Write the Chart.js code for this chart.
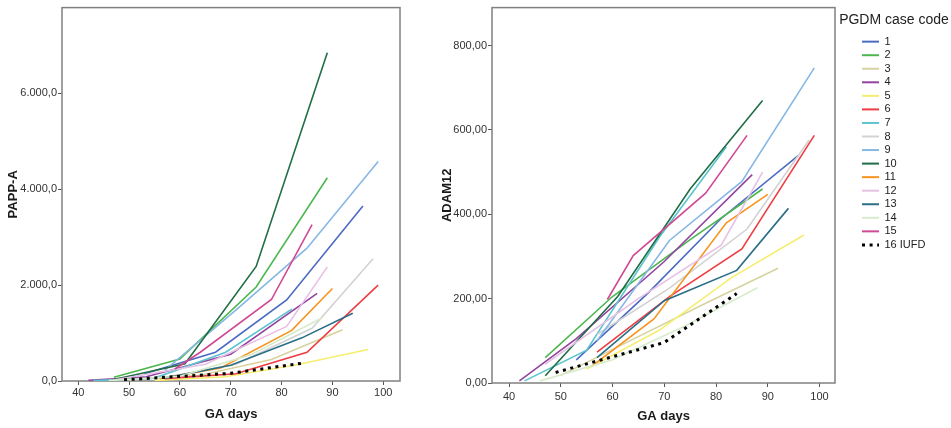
<!DOCTYPE html>
<html>
<head>
<meta charset="utf-8">
<script src="https://cdn.jsdelivr.net/npm/chart.js@4.4.1/dist/chart.umd.min.js"></script>
<style>
  html, body { margin: 0; padding: 0; background: #ffffff; }
  #wrap { position: relative; width: 951px; height: 428px; overflow: hidden; background: #fff; }
  #cA { position: absolute; left: 0; top: 0; }
  #cB { position: absolute; left: 420px; top: 0; }
</style>
</head>
<body>
<div id="wrap">
  <canvas id="cA" width="420" height="428"></canvas>
  <canvas id="cB" width="531" height="428"></canvas>
</div>
<script>
// ---------------- DATA ----------------
const caseLabels = ['1','2','3','4','5','6','7','8','9','10','11','12','13','14','15','16 IUFD'];

// gestational age (days) of each measurement, per case
const gaDays = [
  [53, 67, 81, 96],   // 1
  [47, 60, 75, 89],   // 2
  [50, 64, 78, 92],   // 3
  [42, 53, 70, 87],   // 4
  [55, 69, 83, 97],   // 5
  [57, 71, 85, 99],   // 6
  [43, 55, 69, 82],   // 7
  [57, 71, 86, 98],   // 8
  [57, 71, 85, 99],   // 9
  [47, 61, 75, 89],   // 10
  [56, 68, 82, 90],   // 11
  [47, 65, 81, 89],   // 12
  [57, 70, 84, 94],   // 13
  [46, 60, 74, 88],   // 14
  [59, 64, 78, 86],   // 15
  [49, 70, 84]        // 16 IUFD
];

// PAPP-A values, per case
const pappA = [
  [150, 600, 1690, 3650],
  [80, 460, 1960, 4240],
  [20, 120, 450, 1070],
  [15, 80, 560, 1830],
  [10, 90, 340, 656],
  [50, 150, 600, 2000],
  [10, 60, 600, 1500],
  [70, 350, 1100, 2550],
  [220, 1480, 2770, 4580],
  [30, 360, 2390, 6850],
  [50, 270, 1055, 1930],
  [20, 350, 1140, 2380],
  [60, 330, 900, 1415],
  [10, 100, 550, 1320],
  [250, 600, 1700, 3260],
  [25, 160, 370]
];

// ADAM12 values, per case
const adam12 = [
  [55, 215, 390, 540],
  [60, 205, 340, 460],
  [18, 104, 189, 272],
  [5, 105, 288, 494],
  [33, 125, 250, 351],
  [73, 205, 318, 587],
  [5, 78, 345, 560],
  [115, 225, 365, 576],
  [100, 338, 478, 747],
  [17, 205, 460, 670],
  [40, 152, 380, 447],
  [45, 200, 327, 500],
  [60, 195, 267, 414],
  [5, 55, 135, 226],
  [198, 302, 450, 587],
  [25, 96, 212]
];

// tick labels
const xTicks = [40, 50, 60, 70, 80, 90, 100];
const pappTicks = [0, 2000, 4000, 6000];
const adamTicks = [0, 200, 400, 600, 800];

// ---------------- STYLE ----------------
const caseColors = ['#4A6BC1','#4DB74F','#D6D39E','#93449F','#F5EE6E','#EE3D42','#5BC4CF','#D2D2D2',
                    '#86B7E5','#1F6E45','#F7941E','#E7C1E5','#2A6E87','#D8EBCB','#D04A93','#000000'];
const FONT = "'Liberation Sans', Arial, Helvetica, sans-serif";

function fmtNum(v, dec) {
  const s = Number(v).toFixed(dec);
  let [i, f] = s.split('.');
  i = i.replace(/\B(?=(\d{3})+(?!\d))/g, '.');
  return f !== undefined ? i + ',' + f : i;
}

function buildDatasets(values) {
  return caseLabels.map((lab, k) => {
    const dotted = k === 15;
    return {
      label: lab,
      data: gaDays[k].map((d, j) => ({ x: d, y: values[k][j] })),
      borderColor: caseColors[k],
      backgroundColor: caseColors[k],
      borderWidth: dotted ? 3 : 1.6,
      borderDash: dotted ? [3, 4.6] : [],
      borderCapStyle: 'butt',
      pointRadius: 0,
      pointHoverRadius: 0,
      tension: 0,
      fill: false,
      order: 15 - k
    };
  });
}

const framePlugin = {
  id: 'frame',
  beforeDatasetsDraw(chart) {
    const a = chart.chartArea, ctx = chart.ctx;
    ctx.save();
    ctx.strokeStyle = '#808080';
    ctx.lineWidth = 1.5;
    ctx.strokeRect(a.left, a.top, a.right - a.left, a.bottom - a.top);
    ctx.restore();
  }
};

// fixes the legend box width and lets its title extend beyond the box
const legendWidthPlugin = {
  id: 'legendWidth',
  beforeLayout(chart) {
    const lg = chart.legend;
    if (lg && !lg.__patched) {
      const origFit = lg.fit;
      lg.fit = function () { origFit.call(this); this.width = 69.1; };
      lg.draw = function () { if (this.options.display) { this._draw(); } };
      lg.__patched = true;
    }
  }
};

function xScale(minV, maxV, h, titlePadBottom, tickPad) {
  return {
    type: 'linear', position: 'bottom', min: minV, max: maxV,
    afterBuildTicks: s => { s.ticks = xTicks.map(v => ({ value: v })); },
    afterFit: s => { s.height = h; },
    grid: { drawOnChartArea: false, drawTicks: true, tickLength: 4, color: '#555', lineWidth: 1 },
    border: { display: false },
    ticks: { color: '#333', font: { family: FONT, size: 11 }, padding: tickPad, maxRotation: 0, autoSkip: false,
             callback: v => String(v) },
    title: { display: true, text: 'GA days', color: '#1a1a1a', font: { family: FONT, size: 13, weight: 'bold' },
             padding: { top: 0, bottom: titlePadBottom } }
  };
}

function yScale(maxV, tickArr, dec, w, title, titlePadTop) {
  return {
    type: 'linear', position: 'left', min: 0, max: maxV,
    afterBuildTicks: s => { s.ticks = tickArr.map(v => ({ value: v })); },
    afterFit: s => { s.width = w; },
    grid: { drawOnChartArea: false, drawTicks: true, tickLength: 4, color: '#555', lineWidth: 1 },
    border: { display: false },
    ticks: { color: '#333', font: { family: FONT, size: 11 }, padding: 1, autoSkip: false,
             callback: v => fmtNum(v, dec) },
    title: { display: true, text: title, color: '#1a1a1a', font: { family: FONT, size: 13, weight: 'bold' },
             padding: { top: titlePadTop, bottom: 0 } }
  };
}

// ---------------- LEFT PANEL: PAPP-A ----------------
new Chart(document.getElementById('cA'), {
  type: 'line',
  data: { datasets: buildDatasets(pappA) },
  options: {
    responsive: false, animation: false, events: [],
    layout: { padding: { top: 4, right: 20, bottom: 0, left: 0 } },
    plugins: { legend: { display: false }, tooltip: { enabled: false } },
    scales: {
      x: xScale(36.8, 103.3, 47, 6.2, 1.5),
      y: yScale(7790, pappTicks, 1, 62, 'PAPP-A', 5.2)
    }
  },
  plugins: [framePlugin]
});

// ---------------- RIGHT PANEL: ADAM12 + legend ----------------
new Chart(document.getElementById('cB'), {
  type: 'line',
  data: { datasets: buildDatasets(adam12) },
  options: {
    responsive: false, animation: false, events: [],
    layout: { padding: { top: 5, right: 22.45, bottom: 0, left: 0 } },
    plugins: {
      tooltip: { enabled: false },
      legend: {
        display: true, position: 'right', align: 'start',
        title: { display: true, text: 'PGDM case code', position: 'center', color: '#222',
                 font: { family: FONT, size: 14 }, padding: { top: 8.5, bottom: 3.3 } },
        labels: {
          usePointStyle: true, pointStyleWidth: 17, boxHeight: 11, padding: 2.55,
          color: '#222', font: { family: FONT, size: 11 },
          generateLabels(chart) {
            return chart.data.datasets.map((ds, i) => ({
              text: ds.label,
              strokeStyle: ds.borderColor,
              fillStyle: ds.borderColor,
              lineWidth: i === 15 ? 3 : 2,
              lineDash: ds.borderDash || [],
              lineCap: 'butt',
              pointStyle: 'line',
              hidden: false,
              datasetIndex: i,
              fontColor: '#222'
            }));
          }
        }
      }
    },
    scales: {
      x: xScale(36.7, 103.0, 45, 4.2, 3.5),
      y: yScale(890, adamTicks, 2, 72, 'ADAM12', 19.2),
      gap: {
        type: 'linear', position: 'right', display: true,
        grid: { display: false }, border: { display: false }, ticks: { display: false },
        afterFit: s => { s.width = 24.45; }
      }
    }
  },
  plugins: [framePlugin, legendWidthPlugin]
});
</script>
</body>
</html>
